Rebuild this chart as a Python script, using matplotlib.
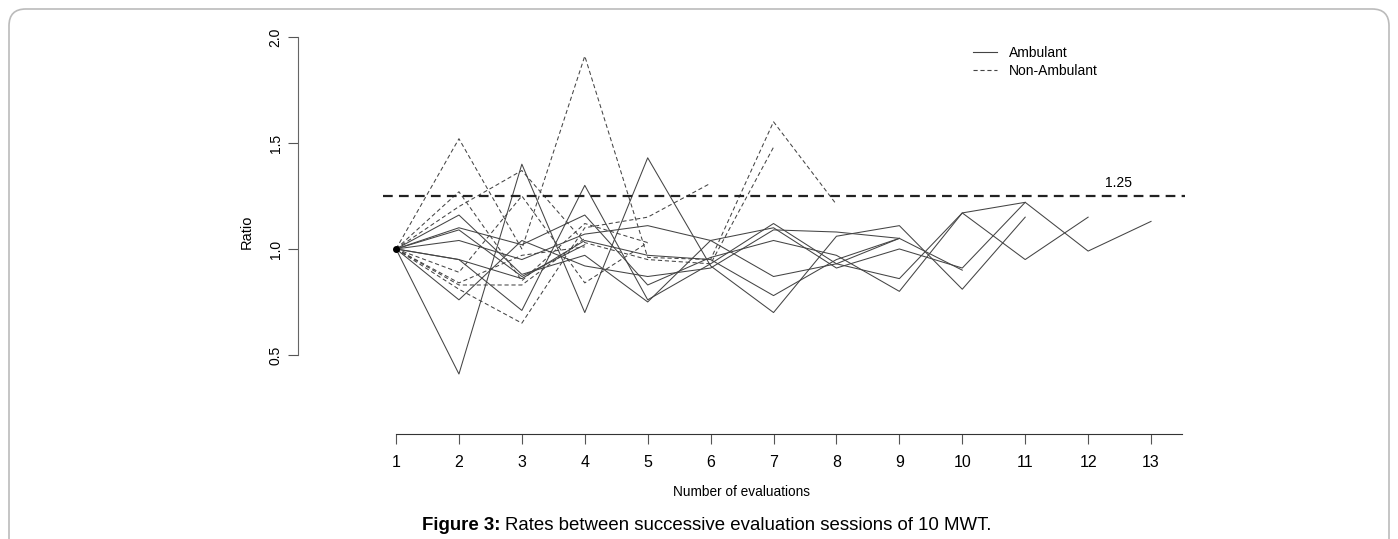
import matplotlib.pyplot as plt
from matplotlib.patches import FancyBboxPatch

plt.rcParams["font.family"] = ["Liberation Sans", "DejaVu Sans"]
plt.rcParams["lines.scale_dashes"] = False

# ratio between successive sessions, one list per patient
ambulant = [
    [1.00, 0.41, 1.40, 0.70, 1.43, 0.92, 0.70, 1.06, 1.11, 0.81, 1.15],
    [1.00, 0.95, 0.71, 1.30, 0.76, 0.93, 1.12, 0.93, 0.86, 1.17, 0.95, 1.15],
    [1.00, 1.16, 0.88, 0.97, 0.75, 1.04, 1.10, 0.91, 1.00, 0.91, 1.22, 0.99, 1.13],
    [1.00, 1.10, 1.02, 1.16, 0.83, 0.96, 1.04, 0.97, 0.80, 1.17, 1.22],
    [1.00, 1.04, 0.95, 1.07, 1.11, 1.04, 0.87, 0.93, 1.05, 0.90],
    [1.00, 0.76, 1.04, 0.92, 0.87, 0.91, 1.09, 1.08, 1.05],
    [1.00, 0.95, 0.86, 1.04, 0.97, 0.95, 0.78, 0.95, 1.05],
    [1.00, 1.09, 0.87, 1.02],
]
non_ambulant = [
    [1.00, 1.52, 1.00, 1.91, 0.96, 0.95, 1.60, 1.21],
    [1.00, 0.81, 0.65, 1.10, 1.15, 1.31],
    [1.00, 1.20, 1.37, 1.03, 0.95, 0.93, 1.48],
    [1.00, 1.27, 0.85, 1.12, 1.03],
    [1.00, 0.89, 1.25, 0.84, 1.03],
    [1.00, 0.84, 0.97, 1.01],
    [1.00, 0.83, 0.83, 1.05],
]
threshold = 1.25
x_ticks = list(range(1, 14))
y_ticks = [0.5, 1.0, 1.5, 2.0]

fig = plt.figure(figsize=(13.98, 5.39), dpi=100)
ax = fig.add_axes([298 / 1398, 1 - 434 / 539, 887 / 1398, 404 / 539])

line_col = "#444444"
for vals in ambulant:
    ax.plot(range(1, len(vals) + 1), vals, color=line_col, lw=0.75)
for vals in non_ambulant:
    ax.plot(range(1, len(vals) + 1), vals, color=line_col, lw=0.75, dashes=(3, 2))
ax.plot([1], [1], marker="o", color="black", ms=4)

ax.plot([0.8, 13.55], [threshold, threshold], color="#222222", lw=1.6, dashes=(7, 4.5))
ax.text(12.48, 1.31, "1.25", fontsize=10, ha="center", va="center")

ax.set_xlim(-0.558, 13.54)
ax.set_ylim(0.127, 2.033)

for s in ["top", "right"]:
    ax.spines[s].set_visible(False)
ax.spines["bottom"].set_bounds(1, 13.5)
ax.spines["left"].set_bounds(0.5, 2.0)
ax.spines["bottom"].set_color("#333333")
ax.spines["left"].set_color("#666666")
ax.set_xticks(x_ticks)
ax.set_yticks(y_ticks)
ax.set_yticklabels([f"{v:.1f}" for v in y_ticks], rotation=90, va="center")
ax.tick_params(axis="x", length=7, width=0.8, color="#555555", labelsize=11.5, pad=8)
ax.tick_params(axis="y", length=7, width=0.8, color="#555555", labelsize=10, pad=4)

ax.set_xlabel("Number of evaluations", fontsize=9.8, va="center")
ax.xaxis.set_label_coords(0.5, -0.1436)
ax.set_ylabel("Ratio", fontsize=10.5, va="center")
ax.yaxis.set_label_coords(-0.0575, 0.5)

h1, = ax.plot([], [], color="#444444", lw=0.8)
h2, = ax.plot([], [], color="#444444", lw=0.8, dashes=(3, 2))
fig.legend([h1, h2], ["Ambulant", "Non-Ambulant"], loc="upper left",
           bbox_to_anchor=(973 / 1398, 1 - 46 / 539), frameon=False, fontsize=10,
           handlelength=1.75, handletextpad=0.85, labelspacing=0.3, borderpad=0,
           borderaxespad=0)

# caption below the plot
r = fig.canvas.get_renderer()
t1 = fig.text(422 / 1398, 1 - 525 / 539, "Figure 3:", fontsize=13.4,
              fontweight="bold", va="center")
bb = t1.get_window_extent(renderer=r)
fig.text(bb.x1 / 1398 + 5 / 1398, 1 - 525 / 539,
         "Rates between successive evaluation sessions of 10 MWT.",
         fontsize=13.4, va="center")

frame = FancyBboxPatch((9 / 1398, -0.1), 1380 / 1398, 1.1 - 9 / 539,
                       boxstyle="round,pad=0,rounding_size=0.012",
                       transform=fig.transFigure, fill=False,
                       edgecolor="#bbbbbb", lw=1.2, mutation_aspect=2.6)
fig.patches.append(frame)

fig.savefig("out.png", dpi=100)
